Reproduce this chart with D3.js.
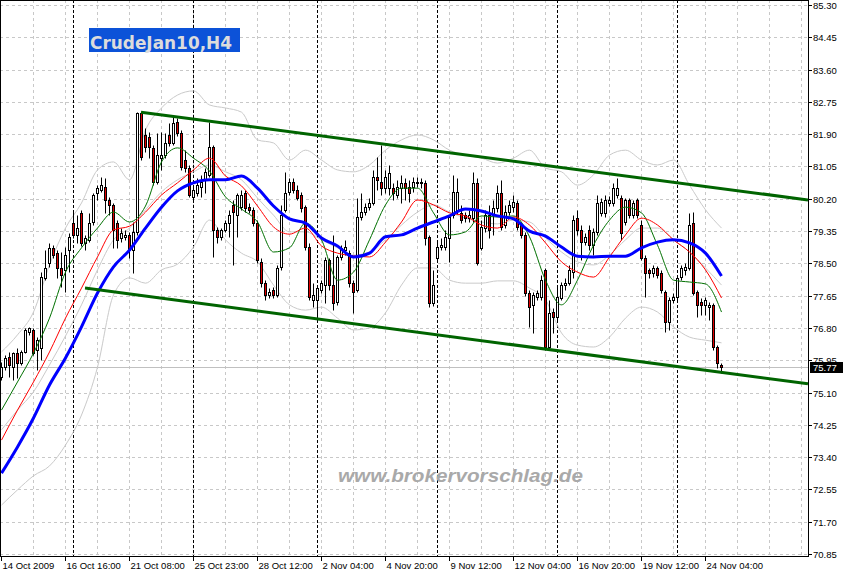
<!DOCTYPE html>
<html><head><meta charset="utf-8">
<script src="https://cdn.jsdelivr.net/npm/d3@7"></script>
<style>body{margin:0;background:#fff}svg{display:block}</style>
</head><body>
<svg id="c" width="843" height="573"></svg>
<script>
// ---- data (H4 bars, CrudeJan10) ----
const open=[75.51,75.77,76.04,75.77,76.14,75.88,76.17,76.69,76.75,76.22,76.27,78.12,78.51,78.91,78.77,78.38,78.33,78.85,79.56,79.25,79.83,79.04,79.12,79.59,80.35,80.43,80.51,80.17,80.04,79.56,79.17,79.20,79.25,78.85,79.33,82.46,81.88,81.83,81.54,80.64,81.27,81.35,81.88,81.67,82.22,81.93,81.22,81.01,80.25,80.35,80.51,80.70,80.83,81.56,79.38,79.20,79.38,79.56,80.04,79.77,79.98,80.35,79.98,79.91,79.56,78.54,77.98,77.67,77.80,77.67,78.41,79.91,80.38,80.64,80.43,80.30,79.98,78.93,77.54,77.54,77.80,77.93,78.59,77.93,77.48,78.67,78.85,78.77,77.98,77.80,79.72,79.85,79.98,80.09,80.77,80.64,80.48,80.48,80.48,80.30,80.48,80.62,80.51,80.51,80.62,80.62,80.62,79.20,77.46,78.64,78.93,78.93,79.17,79.77,79.91,79.83,79.77,79.69,79.69,80.62,78.91,79.43,79.77,79.77,79.96,80.35,79.51,79.85,79.98,80.09,79.51,79.25,77.72,77.41,77.62,77.62,78.33,76.30,77.22,77.09,77.59,77.93,77.98,78.27,79.69,79.38,79.06,79.38,78.98,79.33,79.83,79.83,80.09,80.09,80.30,80.22,79.59,80.17,79.77,80.17,79.51,78.64,78.33,78.25,78.38,78.25,77.75,76.96,77.54,77.62,78.14,78.33,78.38,79.56,77.75,77.48,77.41,77.35,77.41,76.30,75.83];
const high=[75.91,76.09,76.17,76.17,76.27,76.22,76.80,76.82,76.80,76.56,78.27,78.85,79.04,78.98,78.85,78.80,78.93,79.30,79.91,79.77,79.91,79.25,79.83,80.35,80.56,80.77,80.75,80.25,80.09,79.64,79.43,79.38,79.33,79.59,82.48,82.48,82.06,81.96,81.62,81.93,81.96,81.93,82.19,82.41,82.33,82.01,81.48,81.09,80.56,80.75,80.83,81.01,82.22,81.62,79.46,79.43,79.64,79.91,80.17,80.35,80.43,80.43,80.09,79.98,79.64,78.64,78.06,77.85,77.88,78.46,80.04,80.91,80.75,80.75,80.56,80.38,80.04,79.04,77.98,77.93,78.06,78.67,78.64,79.25,78.72,78.98,79.12,78.85,78.06,80.22,80.35,80.09,80.22,80.96,81.30,81.62,80.96,81.09,80.62,80.70,80.83,80.75,80.70,80.77,80.77,80.75,80.70,79.25,78.33,79.12,79.17,79.38,79.77,80.83,80.75,80.04,79.85,79.91,80.91,80.75,79.64,79.91,80.04,80.17,80.56,80.70,80.04,80.17,80.30,80.17,79.59,79.33,77.80,77.75,77.80,78.20,78.38,77.54,77.33,77.88,78.01,78.12,78.46,79.77,79.91,79.51,79.30,79.51,79.43,80.30,80.22,80.30,80.27,80.62,80.75,80.30,80.22,80.22,80.17,80.22,79.64,78.72,78.38,78.46,78.43,78.33,77.80,77.62,77.72,78.20,78.46,78.51,79.83,79.85,77.80,77.59,77.62,77.48,77.46,76.35,75.88];
const low=[75.43,75.70,75.51,75.43,75.48,75.83,76.14,76.62,76.09,75.70,75.96,78.06,78.41,78.64,78.12,77.88,77.75,78.27,79.17,79.04,78.96,78.85,79.06,79.51,80.17,80.38,79.83,79.77,78.91,78.91,79.06,79.12,78.64,78.25,79.25,81.22,81.43,81.27,80.56,80.59,80.96,81.27,81.59,81.62,81.85,80.96,80.91,80.25,80.17,80.27,80.25,80.35,80.77,78.67,79.04,79.12,79.33,79.20,78.46,79.20,79.91,79.85,79.83,79.48,78.51,77.88,77.54,77.59,77.59,77.62,78.33,79.85,80.30,80.35,80.17,79.85,78.85,77.54,77.35,77.14,77.72,77.46,77.80,77.27,77.41,78.59,78.72,77.88,77.20,77.75,79.64,79.77,79.91,80.04,80.43,80.30,80.35,80.30,80.17,80.22,80.09,80.17,80.12,80.38,80.51,80.48,78.98,77.35,77.38,78.54,78.85,78.85,78.54,79.69,79.80,79.56,79.59,79.59,79.59,78.46,78.85,79.33,79.17,79.25,79.85,79.38,79.43,79.77,79.85,79.38,79.17,77.64,76.82,76.66,77.54,77.54,76.22,76.22,76.67,77.01,77.54,77.80,77.93,78.12,79.25,78.59,78.98,78.85,78.72,79.25,79.75,79.72,80.01,80.01,80.22,79.12,79.51,79.69,79.69,79.69,78.59,77.62,78.12,78.14,78.12,77.72,76.69,76.75,77.46,77.54,78.06,78.20,78.33,77.67,77.09,77.14,77.14,77.01,76.22,75.75,75.62];
const close=[75.77,76.01,75.83,76.14,75.88,76.17,76.75,76.80,76.14,76.48,78.14,78.38,78.91,78.72,78.38,78.20,78.72,79.20,79.25,79.43,79.04,79.17,79.56,80.30,80.48,80.56,80.17,80.04,79.38,79.12,79.30,79.25,78.85,79.33,82.46,81.30,81.56,81.56,80.64,81.35,81.35,81.67,81.67,82.19,81.93,81.04,81.01,80.30,80.43,80.56,80.64,80.91,81.56,79.38,79.20,79.38,79.56,79.77,79.85,80.30,80.30,79.96,79.91,79.56,78.59,77.98,77.67,77.75,77.67,78.38,79.77,80.35,80.64,80.43,80.22,79.96,78.93,77.62,77.67,77.85,77.98,78.59,77.93,77.46,78.67,78.91,78.93,77.98,77.75,79.72,79.85,79.98,80.09,80.77,80.70,80.48,80.77,80.88,80.35,80.51,80.62,80.48,80.35,80.64,80.64,80.64,79.17,77.46,77.93,78.93,78.98,79.20,79.72,80.38,80.38,79.64,79.69,79.77,80.62,78.51,79.46,79.77,79.38,79.96,80.35,79.46,79.85,80.04,80.12,79.46,79.25,77.72,77.35,77.67,77.72,78.06,76.30,77.20,77.09,77.62,77.93,77.98,78.33,79.64,79.38,79.06,79.20,78.98,79.33,80.09,80.12,80.17,80.17,80.48,80.48,79.30,80.17,79.77,80.09,79.77,78.64,78.25,78.25,78.38,78.20,77.80,76.96,77.54,77.62,78.12,78.38,78.41,79.51,77.72,77.41,77.41,77.54,77.41,76.30,75.88,75.77];

// indicator readings, one every 4 bars (bar 0,4,...,180)
const maBars=[0,4,8,12,16,20,24,28,32,36,40,44,48,52,56,60,64,68,72,76,80,84,88,92,96,100,104,108,112,116,120,124,128,132,136,140,144,148,152,156,160,164,168,172,176,180];
const maGreen=[74.64,75.38,76.14,77.06,78.27,78.91,79.43,79.85,79.59,80.01,81.17,81.54,81.27,80.93,80.25,79.93,79.59,78.80,78.91,79.56,79.12,78.06,78.27,79.12,80.04,80.48,80.48,79.83,79.25,79.33,79.75,79.72,79.75,79.20,78.06,77.41,78.06,78.98,79.64,79.98,79.83,78.98,78.06,78.01,77.96,77.22];
const maRed=[73.85,74.64,75.38,76.17,77.06,77.85,78.67,79.38,79.48,79.85,80.30,80.62,80.96,81.27,80.80,80.54,80.01,79.46,79.27,79.43,78.96,78.77,78.70,78.67,79.06,79.59,80.17,80.04,79.83,79.75,79.51,79.43,79.72,79.51,79.04,78.54,78.27,78.14,78.67,79.25,79.69,79.51,79.12,78.80,78.33,77.59];
const maBlue=[72.98,73.67,74.43,75.30,76.01,76.83,77.72,78.41,78.85,79.43,79.98,80.41,80.62,80.70,80.70,80.80,80.48,80.01,79.67,79.56,79.17,78.96,78.67,78.77,79.20,79.25,79.43,79.59,79.75,79.93,79.88,79.75,79.67,79.35,79.22,78.93,78.69,78.67,78.69,78.69,78.91,79.06,79.12,79.04,78.77,78.17];
const bbUpper=[76.17,76.62,77.22,78.46,79.43,80.09,80.96,81.17,80.70,82.01,82.59,82.93,83.04,82.67,82.59,82.48,81.75,81.67,81.22,81.48,81.22,80.96,80.91,81.09,81.48,81.75,81.88,81.75,81.48,81.35,81.27,81.14,81.27,81.48,81.01,80.91,80.56,80.83,81.35,81.48,81.22,81.09,81.22,80.56,79.91,79.43];
const bbMid=[74.12,74.64,75.12,75.83,76.59,77.41,78.33,79.12,79.43,79.91,80.38,80.70,80.91,81.09,80.91,80.70,80.22,79.77,79.33,79.33,79.12,78.91,78.72,78.80,79.12,79.51,79.85,80.04,79.85,79.69,79.59,79.54,79.64,79.59,79.17,78.80,78.54,78.46,78.72,79.12,79.43,79.43,79.12,78.80,78.38,77.93];
const bbLower=[72.14,72.54,72.91,73.17,73.72,74.51,75.77,77.67,78.12,77.98,78.33,78.48,78.93,79.64,79.12,78.77,78.54,77.93,77.41,77.27,77.35,77.06,76.75,76.80,77.20,77.93,78.38,78.38,78.06,77.98,77.98,78.04,78.04,77.85,77.54,76.67,76.35,76.30,76.56,77.06,77.35,77.22,76.83,76.56,76.48,76.41];

const channelUpper=[[35,82.48],[201.75,80.17]];
const channelLower=[[21,77.85],[201.75,75.33]];
const priceTicks=["85.30","84.45","83.60","82.75","81.90","81.05","80.20","79.35","78.50","77.65","76.80","75.95","75.10","74.25","73.40","72.55","71.70","70.85"];
const timeLabels=["14 Oct 2009","16 Oct 16:00","21 Oct 08:00","25 Oct 23:00","28 Oct 12:00","2 Nov 04:00","4 Nov 20:00","9 Nov 12:00","12 Nov 04:00","16 Nov 20:00","19 Nov 12:00","24 Nov 04:00"];
const timeLabelBars=[0,16,32,48,64,80,96,112,128,144,160,176];
const separatorBars=[18,48,79,109,139,169];
const gridBars=[8,16,24,32,40,48,56,64,72,80,88,96,104,112,120,128,136,144,152,160,168,176,184,192,200];
const lastPrice=75.77;
const title="CrudeJan10,H4";
const watermark="www.brokervorschlag.de";

// ---- drawing ----
const svg=d3.select("#c");
const W=808,H=556;
const x=d3.scaleLinear().domain([0,180]).range([1,721]);
const y=d3.scaleLinear().domain([70.85,85.30]).range([554.1,5]);
const px=v=>Math.round(x(v))+0.5;
const py=v=>Math.round(y(v))+0.5;

svg.append("rect").attr("width",843).attr("height",573).attr("fill","#fff");
svg.append("defs").append("clipPath").attr("id","clip").append("rect").attr("x",0).attr("y",0).attr("width",W).attr("height",H);
const plot=svg.append("g").attr("clip-path","url(#clip)");

// grid
plot.selectAll(".hg").data(priceTicks).enter().append("line")
  .attr("x1",0).attr("x2",W).attr("y1",d=>py(+d)).attr("y2",d=>py(+d))
  .attr("stroke","#c8c8c8").attr("stroke-dasharray","3,3");
plot.selectAll(".vg").data(gridBars).enter().append("line")
  .attr("x1",d=>px(d)).attr("x2",d=>px(d)).attr("y1",0).attr("y2",H)
  .attr("stroke","#c8c8c8").attr("stroke-dasharray","3,3");
plot.selectAll(".sep").data(separatorBars).enter().append("line")
  .attr("x1",d=>px(d)).attr("x2",d=>px(d)).attr("y1",0).attr("y2",H)
  .attr("stroke","#000").attr("stroke-dasharray","3,2");

// bid line
plot.append("line").attr("x1",0).attr("x2",W).attr("y1",py(lastPrice)).attr("y2",py(lastPrice)).attr("stroke","#c0c0c0");

// bands
const lineGen=d3.line().x(d=>x(d[0])+0.5).y(d=>y(d[1])).curve(d3.curveMonotoneX);
[bbUpper,bbMid,bbLower].forEach(arr=>{
  plot.append("path").attr("d",lineGen(maBars.map((b,i)=>[b,arr[i]])))
    .attr("fill","none").attr("stroke","#cacaca").attr("stroke-width",1);
});

// candles
const cg=plot.append("g");
open.forEach((o,i)=>{
  const c=close[i];
  const cx=px(i);
  cg.append("line").attr("x1",cx).attr("x2",cx).attr("y1",py(high[i])).attr("y2",py(low[i])).attr("stroke","#000");
  const top=Math.round(y(Math.max(o,c))), bot=Math.round(y(Math.min(o,c)));
  if(bot-top<1){
    cg.append("line").attr("x1",cx-1).attr("x2",cx+1).attr("y1",top+0.5).attr("y2",top+0.5).attr("stroke","#000");
  } else {
    cg.append("rect").attr("x",cx-1).attr("y",top+0.5).attr("width",2).attr("height",bot-top)
      .attr("fill",c>=o?"#fff":"#e00000").attr("stroke","#000").attr("stroke-width",1);
  }
});

// moving averages
const mas=[[maGreen,"#007000",1],[maRed,"#ff0000",1],[maBlue,"#0000ff",3]];
mas.forEach(([arr,col,w])=>{
  plot.append("path").attr("d",lineGen(maBars.map((b,i)=>[b,arr[i]])))
    .attr("fill","none").attr("stroke",col).attr("stroke-width",w);
});

// channel
[channelUpper,channelLower].forEach(ch=>{
  plot.append("line").attr("x1",x(ch[0][0])).attr("y1",y(ch[0][1])).attr("x2",x(ch[1][0])).attr("y2",y(ch[1][1]))
    .attr("stroke","#006400").attr("stroke-width",3);
});

// watermark
svg.append("text").attr("x",338).attr("y",482).attr("font-family","Liberation Sans, Arial, sans-serif")
  .attr("font-size",19).attr("font-weight","bold").attr("font-style","italic").attr("fill","#a9a9a9")
  .attr("textLength",245).attr("lengthAdjust","spacingAndGlyphs").text(watermark);

// title
svg.append("rect").attr("x",89).attr("y",28).attr("width",151).attr("height",24).attr("fill","#0c52d8");
svg.append("text").attr("x",90).attr("y",49).attr("font-family","DejaVu Sans, Verdana, sans-serif")
  .attr("font-size",18).attr("font-weight","bold").attr("fill","#dcdcdc")
  .attr("textLength",142).attr("lengthAdjust","spacingAndGlyphs").text(title);

// frame
svg.append("rect").attr("x",0.5).attr("y",0.5).attr("width",W).attr("height",H).attr("fill","none").attr("stroke","#000");

// price axis
const fontF="Liberation Sans, Arial, sans-serif";
priceTicks.forEach(t=>{
  const yy=py(+t);
  svg.append("line").attr("x1",W+1).attr("x2",W+4).attr("y1",yy).attr("y2",yy).attr("stroke","#000");
  svg.append("text").attr("x",813).attr("y",yy+3.5).attr("font-family",fontF).attr("font-size",9.5).attr("fill","#000").text(t);
});
// last price box
const ly=py(lastPrice);
svg.append("rect").attr("x",810).attr("y",ly-5.5).attr("width",33).attr("height",11).attr("fill","#000");
svg.append("text").attr("x",813).attr("y",ly+3.5).attr("font-family",fontF).attr("font-size",9.5).attr("fill","#fff").text(lastPrice.toFixed(2));

// time axis
timeLabelBars.forEach((b,i)=>{
  const xx=px(b);
  svg.append("line").attr("x1",xx).attr("x2",xx).attr("y1",H+1).attr("y2",H+5).attr("stroke","#000");
  svg.append("text").attr("x",xx+1).attr("y",569).attr("font-family",fontF).attr("font-size",9.5).attr("fill","#000").text(timeLabels[i]);
});
</script>
</body></html>
